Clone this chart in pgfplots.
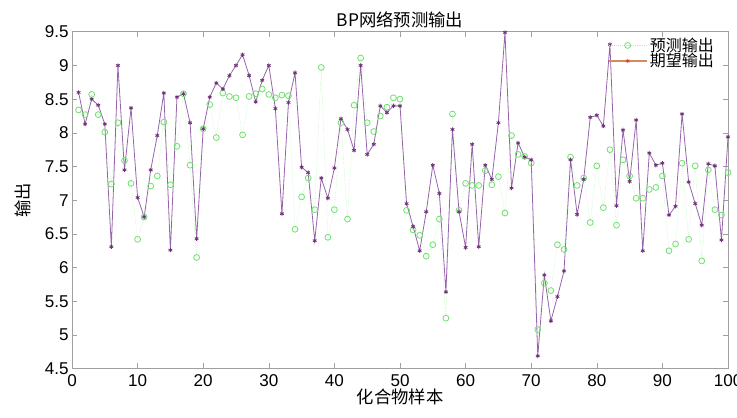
\documentclass[border=0pt]{standalone}
\usepackage{pgfplots}
\pgfplotsset{compat=1.18}
\usepackage{fontspec}
\setmainfont{Liberation Sans}
\newfontfamily\cjk{Noto Sans CJK SC}
\usetikzlibrary{calc}
\definecolor{predg}{RGB}{110,225,110}
\definecolor{predline}{RGB}{185,240,185}
\definecolor{expp}{RGB}{150,100,170}
\definecolor{expm}{RGB}{110,50,120}
\definecolor{axgray}{RGB}{160,160,160}
\definecolor{legor}{RGB}{210,140,90}
\definecolor{legred}{RGB}{220,70,50}
\begin{document}
\begin{tikzpicture}
\begin{axis}[
  scale only axis,
  width=492pt, height=252.75pt,
  xmin=0, xmax=100, ymin=4.5, ymax=9.5,
  xtick={0,10,...,100},
  ytick={4.5,5,5.5,6,6.5,7,7.5,8,8.5,9,9.5},
  yticklabels={4.5,5,5.5,6,6.5,7,7.5,8,8.5,9,9.5},
  tick align=inside,
  major tick length=4pt,
  axis line style={axgray},
  every tick/.style={axgray},
  /pgf/number format/assume math mode=true,
  tick label style={font=\fontsize{12.8}{14}\selectfont, black},
  yticklabel style={xshift=1pt},
  xticklabel style={yshift=-1pt},
  title={\cjk BP网络预测输出},
  title style={font=\fontsize{13}{15}\selectfont, yshift=-7pt},
  xlabel={\cjk 化合物样本},
  xlabel style={font=\fontsize{13}{15}\selectfont, yshift=5pt},
  ylabel={\cjk 输出},
  ylabel style={font=\fontsize{13}{15}\selectfont, at={(axis description cs:-0.056,0.5)}},
  legend style={draw=none, fill=none, at={(rel axis cs:0.985,0.995)}, anchor=north east,
    font=\fontsize{12}{13}\selectfont\cjk, row sep=-4pt, inner sep=1pt},
  legend cell align=left,
  legend image code/.code={%
    \draw[mark repeat=2,mark phase=2,#1] plot coordinates {(0cm,0cm) (0.5cm,0cm) (1cm,0cm)};},
]
\addplot[predline, thin, densely dotted, mark=o, mark size=2.2pt,
  mark options={predg, solid, line width=0.6pt}] coordinates {
(1,8.34)(2,8.27)(3,8.57)(4,8.27)(5,8.01)(6,7.24)(7,8.15)(8,7.59)(9,7.25)(10,6.42)
(11,6.75)(12,7.21)(13,7.36)(14,8.16)(15,7.23)(16,7.80)(17,8.58)(18,7.52)(19,6.15)(20,8.06)
(21,8.42)(22,7.93)(23,8.59)(24,8.54)(25,8.52)(26,7.97)(27,8.54)(28,8.58)(29,8.65)(30,8.57)
(31,8.52)(32,8.56)(33,8.55)(34,6.57)(35,7.05)(36,7.33)(37,6.86)(38,8.97)(39,6.45)(40,6.86)
(41,8.15)(42,6.72)(43,8.41)(44,9.11)(45,8.15)(46,8.02)(47,8.25)(48,8.38)(49,8.52)(50,8.50)
(51,6.85)(52,6.56)(53,6.48)(54,6.17)(55,6.34)(56,6.72)(57,5.25)(58,8.28)(59,6.85)(60,7.25)
(61,7.22)(62,7.22)(63,7.44)(64,7.23)(65,7.35)(66,6.81)(67,7.96)(68,7.68)(69,7.65)(70,7.55)
(71,5.08)(72,5.77)(73,5.66)(74,6.34)(75,6.27)(76,7.64)(77,7.22)(78,7.33)(79,6.67)(80,7.51)
(81,6.89)(82,7.75)(83,6.63)(84,7.60)(85,7.36)(86,7.03)(87,7.03)(88,7.16)(89,7.19)(90,7.36)
(91,6.25)(92,6.35)(93,7.55)(94,6.42)(95,7.51)(96,6.10)(97,7.45)(98,6.86)(99,6.78)(100,7.41)
};
\addlegendentry{预测输出}
\addplot[expp, line width=0.6pt, mark=asterisk, mark size=1.6pt,
  mark options={expm, line width=0.6pt}, forget plot] coordinates {
(1,8.60)(2,8.13)(3,8.50)(4,8.41)(5,8.13)(6,6.31)(7,9.00)(8,7.45)(9,8.37)(10,7.04)
(11,6.75)(12,7.45)(13,7.96)(14,8.59)(15,6.26)(16,8.53)(17,8.58)(18,8.15)(19,6.43)(20,8.06)
(21,8.53)(22,8.74)(23,8.65)(24,8.85)(25,9.00)(26,9.16)(27,8.85)(28,8.46)(29,8.78)(30,9.00)
(31,8.36)(32,6.80)(33,8.45)(34,8.89)(35,7.49)(36,7.41)(37,6.40)(38,7.33)(39,7.03)(40,7.48)
(41,8.21)(42,8.05)(43,7.74)(44,9.00)(45,7.68)(46,7.83)(47,8.40)(48,8.30)(49,8.40)(50,8.40)
(51,6.95)(52,6.61)(53,6.25)(54,6.83)(55,7.52)(56,7.10)(57,5.64)(58,8.05)(59,6.83)(60,6.30)
(61,7.83)(62,6.31)(63,7.52)(64,7.31)(65,8.15)(66,9.49)(67,7.18)(68,7.85)(69,7.64)(70,7.60)
(71,4.69)(72,5.89)(73,5.21)(74,5.57)(75,5.95)(76,7.60)(77,6.79)(78,7.31)(79,8.23)(80,8.26)
(81,8.10)(82,9.31)(83,6.92)(84,8.04)(85,7.28)(86,8.19)(87,6.25)(88,7.70)(89,7.52)(90,7.55)
(91,6.78)(92,6.91)(93,8.28)(94,7.27)(95,6.95)(96,6.63)(97,7.54)(98,7.51)(99,6.41)(100,7.94)
};
\addlegendimage{legor, line width=0.9pt, mark=asterisk, mark size=1.6pt, mark options={legred, line width=0.6pt}}
\addlegendentry{期望输出}
\end{axis}
\pgfresetboundingbox
\path[use as bounding box] ($(current axis.south west)+(-54pt,-36.75pt)$) rectangle ($(current axis.north east)+(6.75pt,23.8pt)$);
\end{tikzpicture}
\end{document}
